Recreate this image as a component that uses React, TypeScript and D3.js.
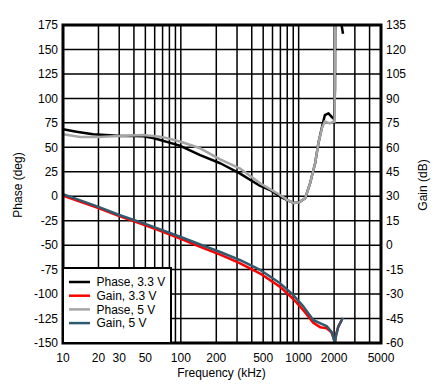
import React from "react";
import * as d3 from "d3";

// Phase, 3.3 V (black)
const phase33Freq = [10, 13, 18, 25, 31, 40, 48, 58, 67, 80, 100, 146, 216, 316, 472, 573, 697, 800, 900, 1000, 1135, 1250, 1380, 1470, 1580, 1670, 1790, 1900, 2000, 2035, 2045, 2290, 2380];
const phase33Val = [68.4, 66, 63.3, 62.2, 61.6, 61.6, 61.4, 59.5, 57.5, 54.8, 51.3, 42.1, 33.7, 23.4, 10.5, 6.4, -0.5, -4, -6.8, -6.5, -2.1, 13.2, 33.7, 54, 71, 83, 84.7, 81.3, 79, 110, 200, 178, 166];

// Gain, 3.3 V (red)
const gain33Freq = [10, 20, 30, 48, 67, 100, 146, 216, 316, 472, 697, 900, 1100, 1330, 1530, 1730, 1900, 1980, 2030, 2080, 2170, 2320];
const gain33Val = [30.4, 22.8, 17.8, 12.6, 8.8, 3.8, -1.0, -5.8, -11.0, -17.4, -25.6, -33.0, -40.0, -47.5, -50.4, -51.0, -53.5, -57, -60, -55, -50, -46];

// Phase, 5 V (gray)
const phase5Freq = [10, 14, 20, 30, 48, 67, 80, 100, 146, 216, 316, 472, 697, 800, 900, 1000, 1135, 1250, 1380, 1470, 1580, 1670, 1840, 1960, 2020, 2030];
const phase5Val = [63.3, 60.5, 60.5, 61.6, 62.6, 60.9, 58.8, 55.7, 49, 37.7, 28.5, 13.2, 1.3, -3.8, -6.8, -6.5, -2.1, 13.2, 33.7, 54, 70, 76.6, 74.5, 76, 76, 200];

// Gain, 5 V (teal)
const gain5Freq = [10, 20, 30, 48, 67, 100, 146, 216, 316, 472, 697, 900, 1100, 1330, 1530, 1730, 1900, 1980, 2030, 2080, 2170, 2380];
const gain5Val = [31.2, 23.5, 18.5, 13.5, 9.7, 5.0, 0.4, -4.2, -9.1, -15.2, -23.4, -30.6, -37.7, -45.9, -47.9, -49.6, -53.1, -57, -60, -55, -50, -44.5];

const xTickLabels = [10, 20, 30, 50, 100, 200, 500, 1000, 2000, 5000];
const xGrid = [20, 30, 40, 50, 60, 70, 80, 90, 100, 200, 300, 400, 500, 600, 700, 800, 900, 1000, 2000, 3000, 4000];
const phaseTicks = d3.range(-150, 176, 25);
const gainTicks = d3.range(-60, 136, 15);

const legendItems = [
  { label: "Phase, 3.3 V", color: "#000000" },
  { label: "Gain, 3.3 V", color: "#ff0000" },
  { label: "Phase, 5 V", color: "#a6a6a6" },
  { label: "Gain, 5 V", color: "#2f5b70" },
];

const left = 63;
const right = 381;
const top = 25;
const bottom = 343;
const font = "'Liberation Sans', Arial, sans-serif";

export default function App() {
  const x = d3.scaleLog().domain([10, 5000]).range([left, right]);
  const yPhase = d3.scaleLinear().domain([-150, 175]).range([bottom, top]);
  const yGain = d3.scaleLinear().domain([-60, 135]).range([bottom, top]);

  const mk = (fs: number[], vs: number[], y: d3.ScaleLinear<number, number>) =>
    d3.line<number>().x((d) => x(fs[d])).y((d) => y(vs[d]))(d3.range(fs.length)) || "";

  const series = [
    { d: mk(phase33Freq, phase33Val, yPhase), color: legendItems[0].color },
    { d: mk(gain33Freq, gain33Val, yGain), color: legendItems[1].color },
    { d: mk(phase5Freq, phase5Val, yPhase), color: legendItems[2].color },
    { d: mk(gain5Freq, gain5Val, yGain), color: legendItems[3].color },
  ];

  return (
    <svg
      width={438}
      height={391}
      style={{ position: "absolute", left: 0, top: 0, background: "#fff" }}
      fontFamily={font}
      fontSize={12}
    >
      <defs>
        <clipPath id="plot">
          <rect x={left} y={top} width={right - left} height={bottom - top} />
        </clipPath>
      </defs>
      <rect x={0} y={0} width={438} height={391} fill="#fff" />
      {/* grid */}
      {xGrid.map((f) => (
        <line key={"vx" + f} x1={x(f)} x2={x(f)} y1={top} y2={bottom} stroke="#000" strokeWidth={1.5} />
      ))}
      {phaseTicks.map((t) => (
        <line key={"hy" + t} x1={left} x2={right} y1={yPhase(t)} y2={yPhase(t)} stroke="#000" strokeWidth={1.5} />
      ))}
      {/* curves */}
      <g clipPath="url(#plot)">
        {series.map((s, i) => (
          <path key={i} d={s.d} fill="none" stroke={s.color} strokeWidth={2.5} strokeLinejoin="round" />
        ))}
      </g>
      {/* frame */}
      <rect x={left} y={top} width={right - left} height={bottom - top} fill="none" stroke="#000" strokeWidth={3} />
      {/* legend */}
      <rect x={left} y={268} width={171 - left} height={bottom - 268} fill="#fff" stroke="#000" strokeWidth={2} />
      {legendItems.map((it, i) => {
        const yy = 282 + i * 13.7;
        return (
          <g key={it.label}>
            <line x1={69} x2={90} y1={yy} y2={yy} stroke={it.color} strokeWidth={2.5} />
            <text x={96.5} y={yy} dy="0.35em" fill="#000">
              {it.label}
            </text>
          </g>
        );
      })}
      {/* left axis labels */}
      {phaseTicks.map((t) => (
        <text key={"pl" + t} x={58} y={yPhase(t)} dy="0.35em" textAnchor="end" fill="#000">
          {t}
        </text>
      ))}
      {gainTicks.map((t) => (
        <text key={"gl" + t} x={386} y={yGain(t)} dy="0.35em" textAnchor="start" fill="#000">
          {t}
        </text>
      ))}
      {xTickLabels.map((f) => (
        <text key={"xl" + f} x={x(f)} y={362} textAnchor="middle" fill="#000">
          {f}
        </text>
      ))}
      <text x={221.5} y={377} textAnchor="middle" fill="#000">
        Frequency (kHz)
      </text>
      <text transform="translate(22,185) rotate(-90)" textAnchor="middle" fill="#000">
        Phase (deg)
      </text>
      <text transform="translate(427,185) rotate(-90)" textAnchor="middle" fill="#000">
        Gain (dB)
      </text>
    </svg>
  );
}
